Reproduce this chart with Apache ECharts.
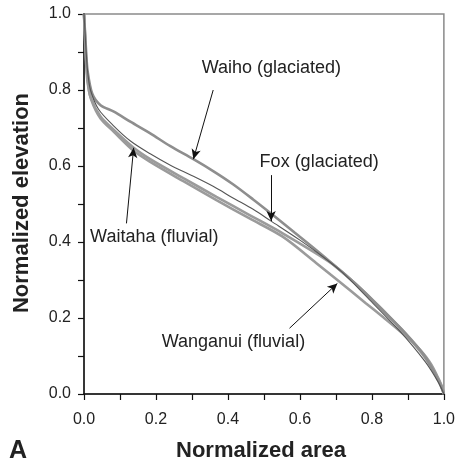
<!DOCTYPE html>
<html>
<head>
<meta charset="utf-8">
<script src="https://cdn.jsdelivr.net/npm/echarts@6/dist/echarts.min.js"></script>
<style>
html,body{margin:0;padding:0;background:#fff;}
#chart{width:458px;height:464px;}
</style>
</head>
<body>
<div id="chart"></div>
<script>
// ---- data (normalized area, normalized elevation) ----
var waihoArea = [0, 0.003, 0.006, 0.010, 0.023, 0.046, 0.083, 0.13, 0.184, 0.24, 0.304, 0.36, 0.414, 0.47, 0.525, 0.585, 0.645, 0.70, 0.764, 0.829, 0.893, 0.948, 0.985, 1.0];
var waihoElev = [1.0, 0.95, 0.90, 0.85, 0.79, 0.76, 0.743, 0.716, 0.686, 0.652, 0.618, 0.586, 0.552, 0.512, 0.471, 0.425, 0.379, 0.335, 0.282, 0.221, 0.16, 0.098, 0.035, 0.0];

var foxArea = [0, 0.003, 0.006, 0.010, 0.018, 0.04, 0.083, 0.13, 0.184, 0.24, 0.304, 0.36, 0.414, 0.47, 0.52, 0.60, 0.663, 0.718, 0.783, 0.875, 0.948, 0.985, 1.0];
var foxElev = [1.0, 0.95, 0.90, 0.85, 0.80, 0.75, 0.705, 0.665, 0.632, 0.602, 0.573, 0.546, 0.516, 0.486, 0.455, 0.405, 0.362, 0.32, 0.258, 0.168, 0.085, 0.03, 0.0];

var waitahaArea = [0, 0.003, 0.006, 0.010, 0.018, 0.046, 0.083, 0.138, 0.184, 0.276, 0.368, 0.46, 0.552, 0.645, 0.70, 0.783, 0.875, 0.939, 0.976, 0.995, 1.0];
var waitahaElev = [1.0, 0.94, 0.88, 0.83, 0.782, 0.73, 0.695, 0.648, 0.618, 0.568, 0.519, 0.471, 0.423, 0.37, 0.335, 0.265, 0.177, 0.107, 0.054, 0.02, 0.0];

var wanganuiArea = [0, 0.003, 0.006, 0.010, 0.02, 0.046, 0.083, 0.138, 0.184, 0.276, 0.368, 0.46, 0.552, 0.645, 0.704, 0.783, 0.829, 0.875, 0.921, 0.96, 0.985, 1.0];
var wanganuiElev = [1.0, 0.93, 0.87, 0.82, 0.775, 0.725, 0.69, 0.64, 0.611, 0.56, 0.51, 0.462, 0.414, 0.345, 0.30, 0.239, 0.204, 0.168, 0.129, 0.085, 0.04, 0.0];

var axisTicks = [0.0, 0.2, 0.4, 0.6, 0.8, 1.0];

// annotations: label text, label anchor (area, elev), arrow tail, arrow head
var labelTexts = ["Waiho (glaciated)", "Fox (glaciated)", "Waitaha (fluvial)", "Wanganui (fluvial)"];
var labelPos = [[0.327, 0.857], [0.488, 0.611], [0.017, 0.414], [0.216, 0.138]];
var arrowTail = [[0.359, 0.80], [0.52, 0.576], [0.118, 0.449], [0.571, 0.173]];
var arrowHead = [[0.304, 0.618], [0.52, 0.455], [0.138, 0.648], [0.704, 0.291]];

function pairs(xs, ys){ return xs.map(function(x,i){ return [x, ys[i]]; }); }

var chart = echarts.init(document.getElementById('chart'), null, {renderer:'canvas'});
var FONT = 'Liberation Sans, Arial, Helvetica, sans-serif';

function lineSeries(name, data, color, width){
  return {
    name: name, type: 'line', data: data, showSymbol: false, symbol: 'none',
    smooth: 0.3, silent: true, animation: false, z: 3,
    lineStyle: {color: color, width: width}
  };
}

var arrowData = arrowTail.map(function(t, i){
  return [{coord: t}, {coord: arrowHead[i]}];
});

var series = [
  lineSeries('Waitaha', pairs(waitahaArea, waitahaElev), '#9b9b9b', 2.6),
  lineSeries('Wanganui', pairs(wanganuiArea, wanganuiElev), '#9b9b9b', 2.6),
  lineSeries('Waiho', pairs(waihoArea, waihoElev), '#8e8e8e', 2.6),
  lineSeries('Fox', pairs(foxArea, foxElev), '#555555', 1.1),
  {
    type: 'line', data: [], silent: true, animation: false, z: 5,
    markLine: {
      silent: true, animation: false,
      symbol: ['none', 'arrow'], symbolSize: [7, 10],
      lineStyle: {color: '#111', width: 1, type: 'solid'},
      label: {show: false},
      data: arrowData
    }
  }
];

chart.setOption({
  backgroundColor: '#fff',
  animation: false,
  grid: {left: 84, right: 12, top: 14, bottom: 70, show: true, borderColor: '#8a8a8a', borderWidth: 1.5, containLabel: false},
  xAxis: {
    type: 'value', min: 0, max: 1, interval: 0.2,
    axisLine: {show: true, lineStyle: {color: '#111', width: 1.5}},
    axisTick: {show: true, inside: false, length: 6, lineStyle: {color: '#111', width: 1.2}},
    minorTick: {show: true, splitNumber: 2, length: 6, lineStyle: {color: '#111', width: 1.2}},
    splitLine: {show: false},
    axisLabel: {margin: 18, fontFamily: FONT, fontSize: 16, color: '#222',
      formatter: function(v){ return v.toFixed(1); }}
  },
  yAxis: {
    type: 'value', min: 0, max: 1, interval: 0.2,
    axisLine: {show: true, lineStyle: {color: '#111', width: 1.5}},
    axisTick: {show: true, inside: false, length: 6, lineStyle: {color: '#111', width: 1.2}},
    minorTick: {show: true, splitNumber: 2, length: 6, lineStyle: {color: '#111', width: 1.2}},
    splitLine: {show: false},
    axisLabel: {margin: 13, fontFamily: FONT, fontSize: 16, color: '#222',
      formatter: function(v){ return v.toFixed(1); }}
  },
  series: series
});

// text annotations placed through the chart's own scales
var graphics = labelTexts.map(function(t, i){
  var p = chart.convertToPixel({gridIndex: 0}, labelPos[i]);
  return {
    type: 'text', x: p[0], y: p[1], silent: true, z: 10,
    style: {text: t, font: '18px ' + FONT, fill: '#222', textAlign: 'left', textVerticalAlign: 'middle'}
  };
});
graphics.push({
  type: 'text', x: 261, y: 451, silent: true,
  style: {text: 'Normalized area', font: 'bold 22px ' + FONT, fill: '#222', textAlign: 'center', textVerticalAlign: 'middle'}
});
graphics.push({
  type: 'text', x: 22, y: 203, rotation: Math.PI / 2, silent: true,
  style: {text: 'Normalized elevation', font: 'bold 22px ' + FONT, fill: '#222', textAlign: 'center', textVerticalAlign: 'middle'}
});
graphics.push({
  type: 'text', x: 9, y: 451, silent: true,
  style: {text: 'A', font: 'bold 25px ' + FONT, fill: '#222', textAlign: 'left', textVerticalAlign: 'middle'}
});
chart.setOption({graphic: graphics});
</script>
</body>
</html>
